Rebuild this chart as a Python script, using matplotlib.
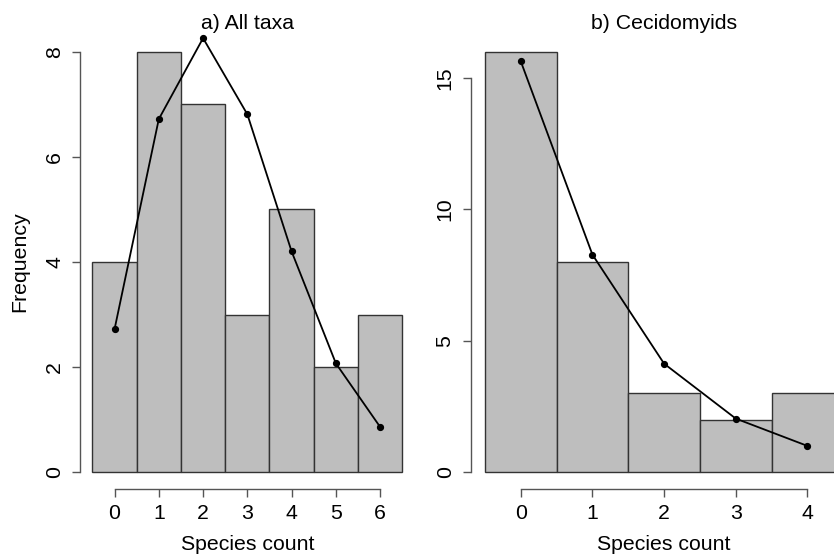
import matplotlib
matplotlib.use("Agg")
import matplotlib.pyplot as plt

plt.rcParams['font.family'] = ['Liberation Sans', 'DejaVu Sans']

# Panel a) All taxa
counts_a = [0, 1, 2, 3, 4, 5, 6]
freq_a = [4, 8, 7, 3, 5, 2, 3]
expected_a = [2.72, 6.72, 8.26, 6.81, 4.20, 2.07, 0.86]
yticks_a = [0, 2, 4, 6, 8]

# Panel b) Cecidomyids
counts_b = [0, 1, 2, 3, 4]
freq_b = [16, 8, 3, 2, 3]
expected_b = [15.64, 8.28, 4.13, 2.04, 1.00]
yticks_b = [0, 5, 10, 15]

W, H = 834, 560
fig = plt.figure(figsize=(W / 100, H / 100), dpi=100)

def px_axes(x0, x1, ytop, ybot):
    return fig.add_axes([x0 / W, 1 - ybot / H, (x1 - x0) / W, (ybot - ytop) / H])

FS = 15.3
axis_col = '#555555'

def style(ax, counts, freq, expected, yticks, ymax, title, ylabel):
    ax.bar(counts, freq, width=1.0, align='center', color='#BEBEBE',
           edgecolor='#333333', linewidth=1.0, zorder=2)
    ax.plot(counts, expected, color='black', linewidth=1.3, marker='o',
            markersize=4.2, zorder=3, clip_on=False)
    lo, hi = -0.5, counts[-1] + 0.5
    r = hi - lo
    ax.set_xlim(lo - 0.04 * r, hi + 0.04 * r)
    ax.set_ylim(-0.04 * ymax, 1.04 * ymax)
    for s in ['top', 'right']:
        ax.spines[s].set_visible(False)
    for s in ['left', 'bottom']:
        ax.spines[s].set_color(axis_col)
        ax.spines[s].set_linewidth(1.0)
    ax.spines['left'].set_bounds(yticks[0], yticks[-1])
    ax.spines['bottom'].set_bounds(counts[0], counts[-1])
    ax.set_xticks(counts)
    ax.set_xticklabels([str(c) for c in counts])
    ax.set_yticks(yticks)
    ax.set_yticklabels([str(t) for t in yticks], rotation=90, va='center')
    ax.tick_params(axis='both', length=6, width=1.0, color=axis_col,
                   labelsize=FS, direction='out')
    ax.tick_params(axis='x', pad=4.5)
    ax.tick_params(axis='y', pad=5.5)
    ax.set_title(title, fontsize=FS, pad=4.5)
    ax.set_xlabel('Species count', fontsize=FS, labelpad=9)
    if ylabel:
        ax.set_ylabel(ylabel, fontsize=FS, labelpad=11)
    ax.patch.set_visible(False)

ax1 = px_axes(80, 414.7, 35, 489)
style(ax1, counts_a, freq_a, expected_a, yticks_a, 8, 'a) All taxa', 'Frequency')

ax2 = px_axes(470.6, 857.6, 35, 489)
style(ax2, counts_b, freq_b, expected_b, yticks_b, 16, 'b) Cecidomyids', None)

fig.savefig('out.png', dpi=100)
